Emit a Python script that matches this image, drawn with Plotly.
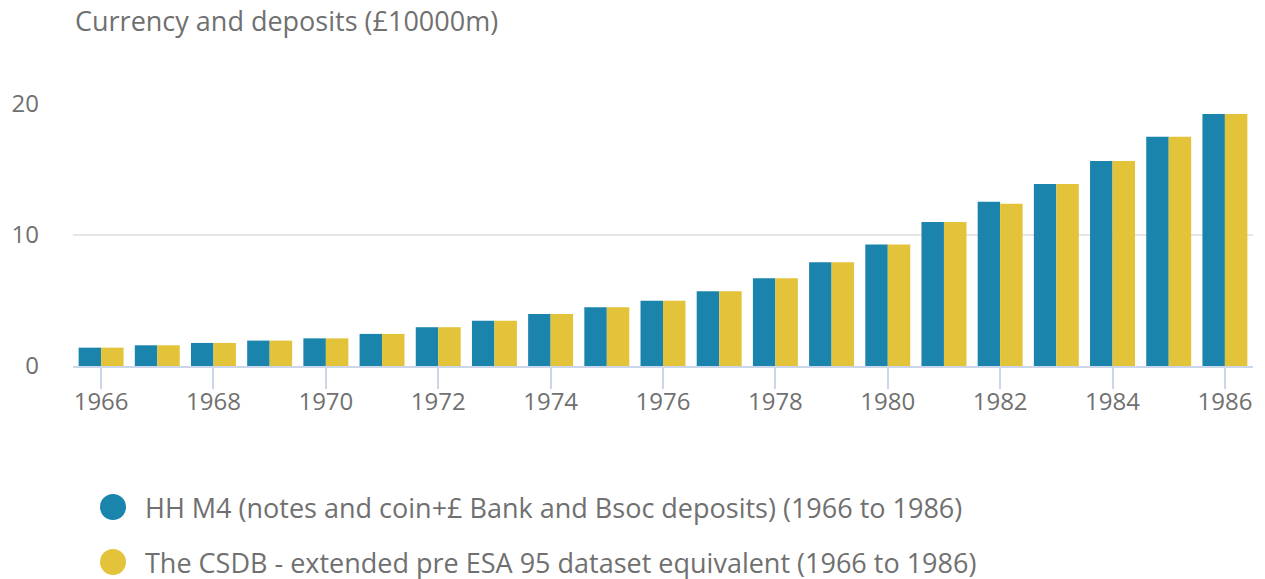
import plotly.graph_objects as go

years = [str(y) for y in range(1966, 1987)]
hh_m4 = [1.40, 1.58, 1.76, 1.94, 2.11, 2.45, 2.96, 3.46, 3.97, 4.48, 4.99,
         5.71, 6.70, 7.92, 9.27, 11.0, 12.53, 13.9, 15.64, 17.5, 19.24]
csdb = [1.40, 1.58, 1.76, 1.94, 2.11, 2.45, 2.96, 3.46, 3.97, 4.48, 4.99,
        5.71, 6.70, 7.92, 9.27, 11.0, 12.38, 13.9, 15.64, 17.5, 19.24]
series_names = [
    "HH M4 (notes and coin+£ Bank and Bsoc deposits) (1966 to 1986)",
    "The CSDB - extended pre ESA 95 dataset equivalent (1966 to 1986)",
]
series_colors = ["#1a84ac", "#e3c33a"]
tick_years = years[::2]
y_ticks = [0, 10, 20]
title_text = "Currency and deposits (£10000m)"

# page body has an 8px margin, so the figure is drawn 8px smaller/offset
OFF = 8
W, H = 1265 - OFF, 579 - OFF
L, R, T, B = 73 - OFF, 12, 104 - OFF, 213
FONT = "Open Sans"
GREY = "#707070"

fig = go.Figure()
for name, vals, col in zip(series_names, [hh_m4, csdb], series_colors):
    fig.add_trace(go.Bar(x=years, y=vals, name=name, marker_color=col,
                         marker_line_width=0, showlegend=False))

fig.update_layout(
    width=W, height=H,
    margin=dict(l=L, r=R, t=T, b=B, autoexpand=False),
    paper_bgcolor="white", plot_bgcolor="white",
    barmode="group", bargap=0.2, bargroupgap=0,
    font=dict(family=FONT, color=GREY, size=24),
    title=dict(text=title_text, xref="container", yref="container",
               x=(75 - OFF) / W, xanchor="left", y=1 - (22 - OFF) / H,
               yanchor="middle",
               font=dict(family=FONT, size=27, color=GREY)),
)
fig.update_xaxes(
    type="category", tickvals=tick_years, ticktext=tick_years,
    range=[-0.5, len(years) - 0.5],
    showgrid=False, showline=True, linecolor="#ccd6eb", linewidth=2,
    ticks="outside", ticklen=21, tickcolor="#ccd6eb", tickwidth=2,
    ticklabelstandoff=-8,
    tickfont=dict(family=FONT, size=24, color=GREY),
)
fig.update_yaxes(
    range=[0, 20], tickvals=y_ticks, showgrid=True, gridcolor="#e6e6e6",
    gridwidth=2, zeroline=False, showline=False, ticks="",
    ticklabelstandoff=33,
    tickfont=dict(family=FONT, size=24, color=GREY),
)

pw = W - L - R
ph = H - T - B
legend_y = [507 - OFF, 562 - OFF]
for name, col, yp in zip(series_names, series_colors, legend_y):
    px_ = (113 - OFF - L) / pw
    py_ = (H - B - yp) / ph
    fig.add_shape(type="circle", xref="paper", yref="paper",
                  xsizemode="pixel", ysizemode="pixel",
                  xanchor=px_, yanchor=py_, x0=-13, x1=13, y0=-13, y1=13,
                  fillcolor=col, line_width=0)
    fig.add_annotation(text=name, xref="paper", yref="paper",
                       x=(143 - OFF - L) / pw, y=py_, xanchor="left",
                       yanchor="middle", showarrow=False,
                       font=dict(family=FONT, size=27, color=GREY))

fig.write_html("out.html")
